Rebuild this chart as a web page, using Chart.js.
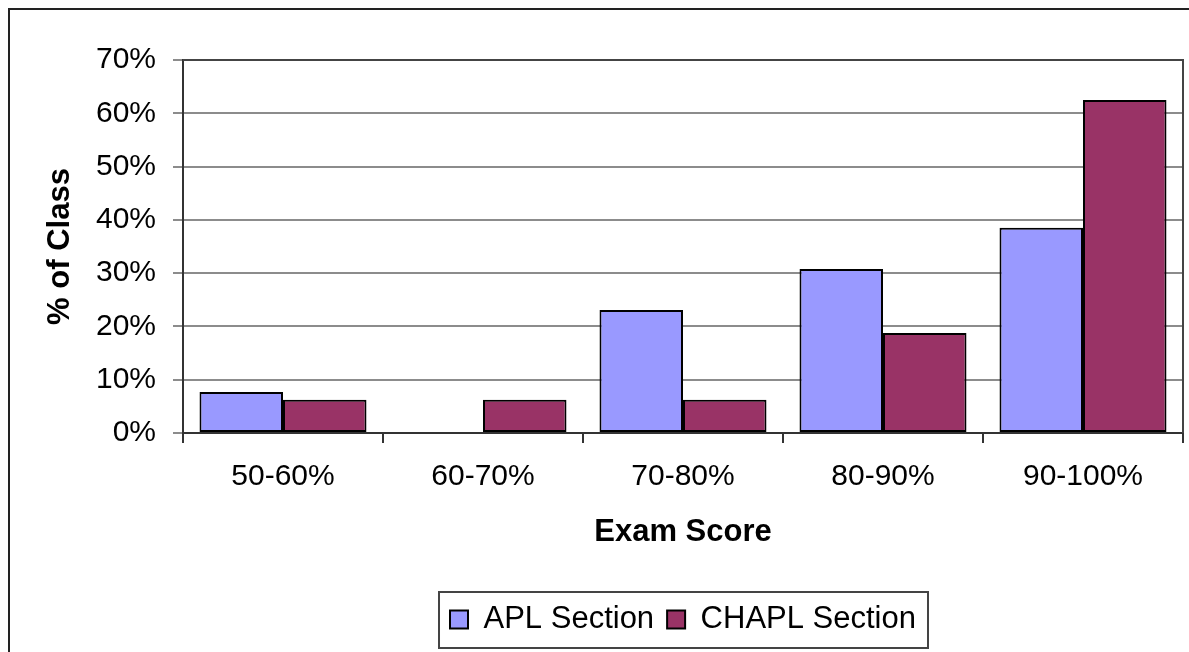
<!DOCTYPE html>
<html>
<head>
<meta charset="utf-8">
<title>Exam Score</title>
<script src="https://cdn.jsdelivr.net/npm/chart.js@4.4.1/dist/chart.umd.min.js"></script>
<style>
  html, body { margin: 0; padding: 0; background: #fff; }
  canvas { display: block; }
</style>
</head>
<body>
<canvas id="myChart" width="1189" height="652"></canvas>
<script>
// data (persen dari kelas)
const categories = ["50-60%", "60-70%", "70-80%", "80-90%", "90-100%"];
const aplSection = [7.7, 0, 23.1, 30.8, 38.5];
const chaplSection = [6.25, 6.25, 6.25, 18.75, 62.5];
const yTicks = [0, 10, 20, 30, 40, 50, 60, 70];

Chart.defaults.font.family = '"Liberation Sans", Arial, sans-serif';
Chart.defaults.color = "#000";

// bingkai luar, garis atas/kanan plot, kotak legend
const frame = {
    id: "frame",
    beforeDraw(chart) {
        const ctx = chart.ctx;
        ctx.save();
        ctx.fillStyle = "#fff";
        ctx.fillRect(0, 0, chart.width, chart.height);
        ctx.strokeStyle = "#222";
        ctx.lineWidth = 2;
        ctx.strokeRect(9, 9, chart.width + 40, chart.height + 40);
        ctx.restore();
    },
    beforeDatasetsDraw(chart) {
        const a = chart.chartArea;
        const ctx = chart.ctx;
        ctx.save();
        ctx.strokeStyle = "#444";
        ctx.lineWidth = 2;
        ctx.beginPath();
        ctx.moveTo(a.left, a.top);
        ctx.lineTo(a.right, a.top);
        ctx.lineTo(a.right, a.bottom);
        ctx.stroke();
        ctx.restore();
    },
    afterDraw(chart) {
        const boxes = chart.legend.legendHitBoxes;
        if (!boxes || !boxes.length) return;
        const l = Math.min(...boxes.map((b) => b.left)) - 11;
        const r = Math.max(...boxes.map((b) => b.left + b.width)) + 12;
        const t = Math.min(...boxes.map((b) => b.top)) - 12;
        const btm = Math.max(...boxes.map((b) => b.top + b.height)) + 13;
        const ctx = chart.ctx;
        ctx.save();
        ctx.strokeStyle = "#444";
        ctx.lineWidth = 2;
        ctx.strokeRect(l, t, r - l, btm - t);
        ctx.restore();
    },
};

const ctx = document.getElementById("myChart");
const scores = new Chart(ctx, {
    type: "bar",
    data: {
        labels: categories,
        datasets: [
            {
                label: "APL Section",
                data: aplSection,
                backgroundColor: "#9999FF",
                borderColor: "#000",
                borderWidth: 2,
                borderSkipped: false,
            },
            {
                label: "CHAPL Section",
                data: chaplSection,
                backgroundColor: "#993366",
                borderColor: "#000",
                borderWidth: 2,
                borderSkipped: false,
            },
        ],
    },
    options: {
        responsive: false,
        animation: false,
        devicePixelRatio: 1,
        categoryPercentage: 0.835,
        barPercentage: 1.0,
        layout: {
            padding: { left: 40, right: 6, top: 60, bottom: 7 },
        },
        scales: {
            x: {
                ticks: { font: { size: 30 }, color: "#000", padding: 16 },
                grid: {
                    offset: true,
                    drawOnChartArea: false,
                    color: "#333",
                    lineWidth: 2,
                    tickLength: 10,
                },
                border: { color: "#333", width: 2 },
                title: {
                    display: true,
                    text: "Exam Score",
                    color: "#000",
                    font: { size: 31, weight: "bold" },
                    padding: { top: 0, bottom: 40 },
                },
                afterFit(scale) {
                    scale.height = 158;
                },
            },
            y: {
                min: 0,
                max: 70,
                afterBuildTicks(scale) {
                    scale.ticks = yTicks.map((v) => ({ value: v }));
                },
                ticks: {
                    font: { size: 30 },
                    color: "#000",
                    padding: 17,
                    callback: (v) => v + "%",
                },
                grid: { color: "#8c8c8c", lineWidth: 2, tickLength: 10 },
                border: { color: "#333", width: 2 },
                title: {
                    display: true,
                    text: "% of Class",
                    color: "#000",
                    font: { size: 31, weight: "bold" },
                    padding: { top: 2, bottom: 0 },
                },
                afterFit(scale) {
                    scale.width = 143;
                },
            },
        },
        plugins: {
            legend: {
                position: "bottom",
                fullSize: false,
                labels: {
                    font: { size: 31 },
                    color: "#000",
                    boxWidth: 18,
                    boxHeight: 18,
                    padding: 13,
                },
            },
            tooltip: { enabled: false },
        },
    },
    plugins: [frame],
});
</script>
</body>
</html>
